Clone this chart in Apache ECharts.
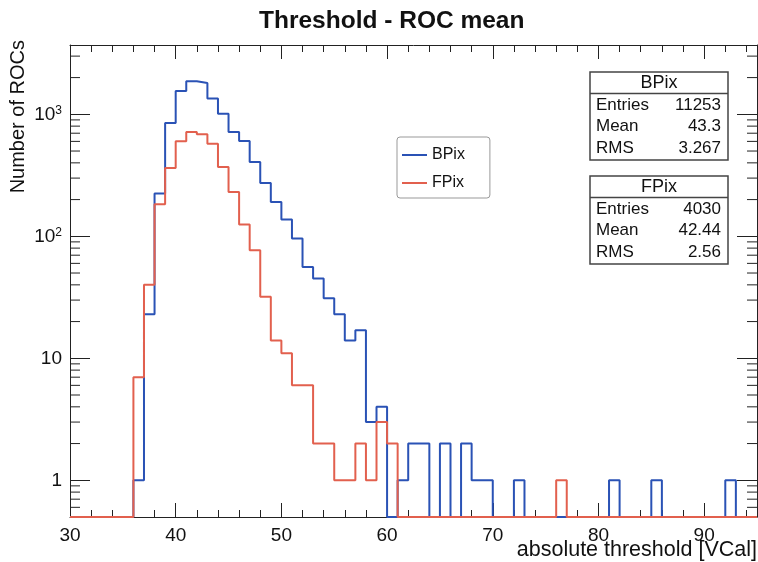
<!DOCTYPE html>
<html>
<head>
<meta charset="utf-8">
<script src="https://cdn.jsdelivr.net/npm/echarts@6/dist/echarts.min.js"></script>
<style>
html,body{margin:0;padding:0;background:#fff;}
#chart{width:758px;height:562px;}
</style>
</head>
<body>
<div id="chart"></div>
<script>
// ---- data (bins of width 1 VCal, starting at 30) ----
const binStart = 30;
const binEnd = 95;
const seriesNames = ['BPix', 'FPix'];
const bpixCounts = [0,0,0,0,0,0,
  1,23,224,849,1553,1864,1806,1345,1013,716,
  604,406,273,191,137,96,56,45,31,23,
  14,17,3,4,0,1,2,2,0,2,
  0,2,1,1,0,0,1,
  0,0,0,0,0,0,0,0,
  1,0,0,0,1,0,0,0,0,0,0,1,0,0];
const fpixCounts = [0,0,0,0,0,0,
  7,40,183,363,601,716,686,575,370,231,
  125,77,32,14,11,6,6,2,2,1,
  1,2,1,3,2,
  0,0,0,0,0,0,0,0,0,0,0,0,0,0,0,
  1,
  0,0,0,0,0,0,0,0,0,0,0,0,0,0,0,0,0,0];
const xTickValues = [30, 40, 50, 60, 70, 80, 90];
const yMajorTicks = [1, 10, 100, 1000];
const yMinorTicks = [0.6,0.7,0.8,0.9, 2,3,4,5,6,7,8,9, 20,30,40,50,60,70,80,90,
  200,300,400,500,600,700,800,900, 2000,3000];
const statsEntries = ['11253', '4030'];
const statsMeans = ['43.3', '42.44'];
const statsRMS = ['3.267', '2.56'];
const yMin = 0.5, yMax = 3700;

// ---- styles ----
const FONT = "'Liberation Sans', Arial, Helvetica, sans-serif";
const colors = ['#2a52b5', '#e2604e'];
const axisColor = '#222';
const yMinorLen = 10;

function histLine(counts) {
  const pts = counts.map((c, i) => [binStart + i, c > 0 ? c : yMin]);
  const last = counts[counts.length - 1];
  pts.push([binStart + counts.length, last > 0 ? last : yMin]);
  return pts;
}

function yLabel(v) {
  const l = Math.log10(v);
  const e = Math.round(l);
  if (Math.abs(l - e) > 1e-6 || yMajorTicks.indexOf(Math.pow(10, e)) < 0) return '';
  if (e === 0) return '1';
  if (e === 1) return '10';
  return '10{sup|' + e + '}';
}

function statsBox(name, idx, top) {
  const left = 590, w = 138, rowH = 21.5;
  const els = [
    {type: 'rect', shape: {x: left, y: top, width: w, height: 88},
     style: {fill: '#fff', stroke: '#444', lineWidth: 1.5}},
    {type: 'line', shape: {x1: left, y1: top + 21.5, x2: left + w, y2: top + 21.5},
     style: {stroke: '#444', lineWidth: 1.5}},
    {type: 'text', style: {text: name, x: left + w / 2, y: top + 11.5, align: 'center',
      verticalAlign: 'middle', font: '18px ' + FONT, fill: '#111'}}
  ];
  const labels = ['Entries', 'Mean', 'RMS'];
  const vals = [statsEntries[idx], statsMeans[idx], statsRMS[idx]];
  for (let r = 0; r < 3; r++) {
    const y = top + 33 + r * rowH;
    els.push({type: 'text', style: {text: labels[r], x: left + 6, y: y, align: 'left',
      verticalAlign: 'middle', font: '17px ' + FONT, fill: '#111'}});
    els.push({type: 'text', style: {text: vals[r], x: left + w - 7, y: y, align: 'right',
      verticalAlign: 'middle', font: '17px ' + FONT, fill: '#111'}});
  }
  return els;
}

const chart = echarts.init(document.getElementById('chart'), null, {renderer: 'canvas'});

const xAxisCommon = {
  type: 'value', min: binStart, max: binEnd, interval: 10,
  axisLine: {show: true, onZero: false, lineStyle: {color: axisColor, width: 1}},
  axisTick: {show: true, inside: true, length: 14, lineStyle: {color: axisColor}},
  minorTick: {show: true, splitNumber: 5, length: 7, lineStyle: {color: axisColor}},
  splitLine: {show: false}
};
const yAxisCommon = {
  type: 'log', logBase: 10, min: yMin, max: yMax,
  axisLine: {show: true, onZero: false, lineStyle: {color: axisColor, width: 1}},
  axisTick: {show: true, inside: true, length: 20, lineStyle: {color: axisColor}},
  minorTick: {show: false},
  splitLine: {show: false}
};

const option = {
  animation: false,
  backgroundColor: '#fff',
  title: {
    text: 'Threshold - ROC mean', left: 254, top: 4,
    textStyle: {fontFamily: FONT, fontSize: 24.5, fontWeight: 'bold', color: '#111'}
  },
  legend: {
    data: seriesNames, orient: 'vertical', left: 397, top: 137, icon: 'rect',
    backgroundColor: '#fff', borderColor: '#999', borderWidth: 1, borderRadius: 3,
    padding: [10, 25, 7, 5], itemWidth: 25, itemHeight: 2, itemGap: 12,
    textStyle: {fontFamily: FONT, fontSize: 16, color: '#111', lineHeight: 16}
  },
  grid: {left: 70, right: 1, top: 45, bottom: 45, containLabel: false},
  xAxis: [
    Object.assign({}, xAxisCommon, {
      position: 'bottom',
      axisLabel: {show: true, margin: 9, fontFamily: FONT, fontSize: 19, color: '#111',
        showMaxLabel: false,
        formatter: v => (xTickValues.indexOf(v) >= 0 ? String(v) : '')}
    }),
    Object.assign({}, xAxisCommon, {position: 'top', axisLabel: {show: false}})
  ],
  yAxis: [
    Object.assign({}, yAxisCommon, {
      position: 'left',
      axisLabel: {show: true, margin: 8, fontFamily: FONT, fontSize: 19, color: '#111',
        formatter: yLabel,
        rich: {sup: {fontFamily: FONT, fontSize: 12, color: '#111', verticalAlign: 'top', lineHeight: 12, padding: [0, 0, 8, 0]}}}
    }),
    Object.assign({}, yAxisCommon, {position: 'right', axisLabel: {show: false}})
  ],
  series: [
    {
      name: seriesNames[0], type: 'line', step: 'end', data: histLine(bpixCounts),
      symbol: 'none', showSymbol: false, clip: false,
      lineStyle: {color: colors[0], width: 2}, itemStyle: {color: colors[0]}, z: 3
    },
    {
      name: seriesNames[1], type: 'line', step: 'end', data: histLine(fpixCounts),
      symbol: 'none', showSymbol: false, clip: false,
      lineStyle: {color: colors[1], width: 2}, itemStyle: {color: colors[1]}, z: 4
    },
    {
      name: 'yMinorTicks', type: 'custom', silent: true, z: 1,
      data: yMinorTicks.map(v => [binStart, v]),
      renderItem: function (params, api) {
        const v = api.value(1);
        const pL = api.coord([binStart, v]);
        const pR = api.coord([binEnd, v]);
        return {type: 'group', children: [
          {type: 'line', shape: {x1: pL[0], y1: pL[1], x2: pL[0] + yMinorLen, y2: pL[1]},
           style: {stroke: axisColor, lineWidth: 1}},
          {type: 'line', shape: {x1: pR[0], y1: pR[1], x2: pR[0] - yMinorLen, y2: pR[1]},
           style: {stroke: axisColor, lineWidth: 1}}
        ]};
      }
    }
  ],
  graphic: [
    {type: 'text', x: 18, y: 40, rotation: Math.PI / 2,
     style: {text: 'Number of ROCs', align: 'right', verticalAlign: 'middle',
       font: '20px ' + FONT, fill: '#111'}},
    {type: 'text', x: 757, y: 550,
     style: {text: 'absolute threshold [VCal]', align: 'right', verticalAlign: 'middle',
       font: '21.5px ' + FONT, fill: '#111'}}
  ].concat(statsBox(seriesNames[0], 0, 72), statsBox(seriesNames[1], 1, 176))
};

chart.setOption(option);
</script>
</body>
</html>
